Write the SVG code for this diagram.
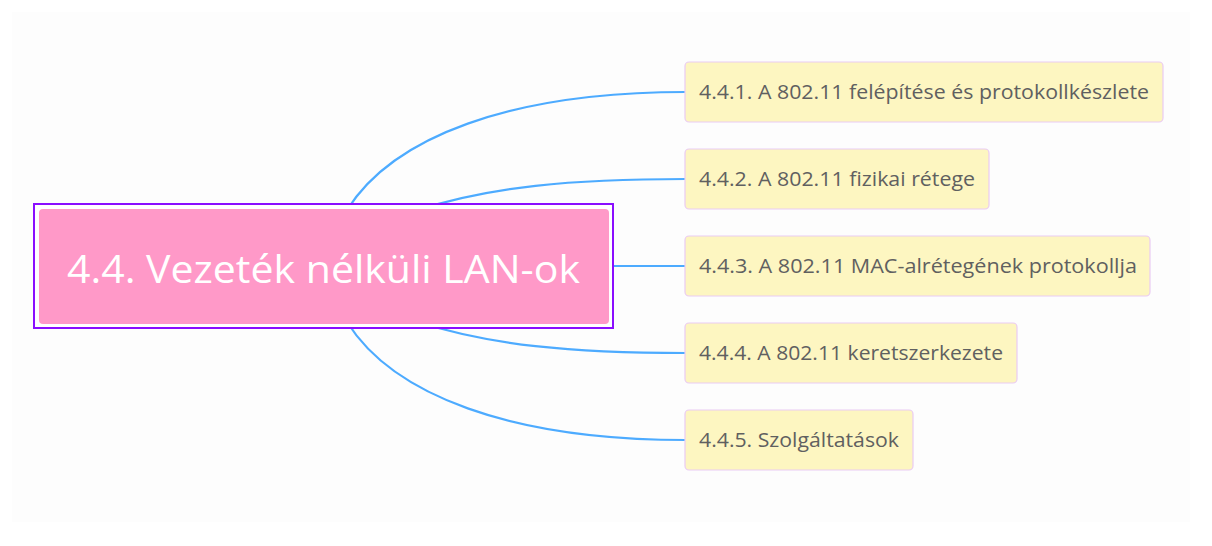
<svg xmlns="http://www.w3.org/2000/svg" width="1212" height="546" viewBox="0 0 1212 546">
<style>
.conn{fill:none;stroke:#4dabff;stroke-width:2.2}
.child rect{fill:#fdf6c1;stroke:#eacbf3;stroke-width:1.2}
.child text{font-family:"Open Sans","Noto Sans",sans-serif;font-size:20.5px;fill:#606060}
</style>
<rect x="0" y="0" width="1212" height="546" fill="#ffffff"/>
<rect x="12" y="12" width="1178" height="510" fill="#fdfdfd"/>
<g id="connectors">
<path class="conn" d="M347,210 C393,137 510,92 686,92"/>
<path class="conn" d="M418,210 C490,187 570,179 686,179"/>
<path class="conn" d="M610,266 L686,266"/>
<path class="conn" d="M418,322 C490,345 570,353 686,353"/>
<path class="conn" d="M347,322 C393,395 510,440 686,440"/>
</g>
<g id="root">
<rect x="34" y="204" width="579" height="124" fill="#ffffff" stroke="#8a0eff" stroke-width="2"/>
<rect x="39" y="209" width="570" height="115" rx="4" fill="#ff99c8"/>
<text x="67" y="283" textLength="513" lengthAdjust="spacingAndGlyphs" font-family="Open Sans,Noto Sans,sans-serif" font-size="39" fill="#ffffff">4.4. Vezeték nélküli LAN-ok</text>
</g>
<g id="n1" class="child">
<rect x="685" y="62" width="478" height="60" rx="4"/>
<text x="699" y="99" textLength="450" lengthAdjust="spacingAndGlyphs">4.4.1. A 802.11 felépítése és protokollkészlete</text>
</g>
<g id="n2" class="child">
<rect x="685" y="149" width="304" height="60" rx="4"/>
<text x="699" y="186" textLength="276" lengthAdjust="spacingAndGlyphs">4.4.2. A 802.11 fizikai rétege</text>
</g>
<g id="n3" class="child">
<rect x="685" y="236" width="465" height="60" rx="4"/>
<text x="699" y="273" textLength="438" lengthAdjust="spacingAndGlyphs">4.4.3. A 802.11 MAC-alrétegének protokollja</text>
</g>
<g id="n4" class="child">
<rect x="685" y="323" width="332" height="60" rx="4"/>
<text x="699" y="360" textLength="304" lengthAdjust="spacingAndGlyphs">4.4.4. A 802.11 keretszerkezete</text>
</g>
<g id="n5" class="child">
<rect x="685" y="410" width="228" height="60" rx="4"/>
<text x="699" y="447" textLength="200" lengthAdjust="spacingAndGlyphs">4.4.5. Szolgáltatások</text>
</g>
</svg>
